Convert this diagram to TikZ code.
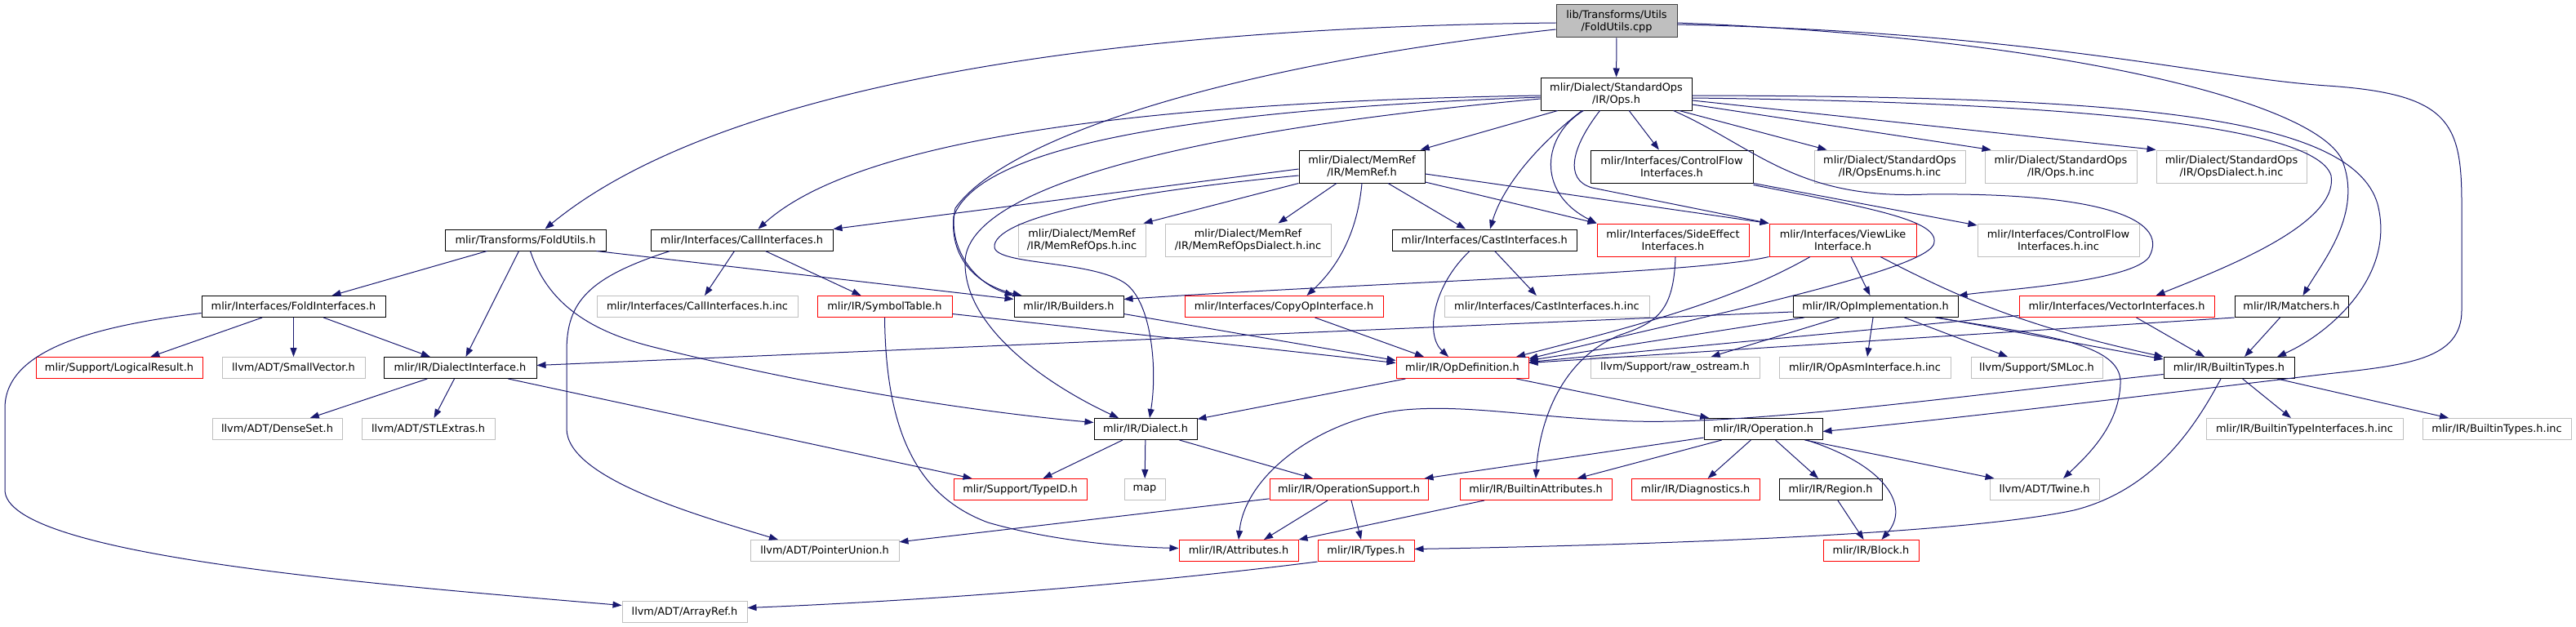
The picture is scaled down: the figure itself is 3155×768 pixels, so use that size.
\documentclass[tikz,border=0pt]{standalone}
\usepackage{fontspec}
\setmainfont{DejaVu Sans}
\usetikzlibrary{arrows.meta}
\definecolor{edgec}{RGB}{25,25,112}
\definecolor{grayb}{RGB}{191,191,191}
\definecolor{rootb}{RGB}{64,64,64}
\tikzset{
  box/.style={rectangle, inner sep=0pt, align=center, line width=1pt, fill=white,
    font=\fontsize{12.9pt}{15pt}\selectfont},
  nb/.style={box, draw=black},
  nr/.style={box, draw=red},
  ng/.style={box, draw=grayb},
  nroot/.style={box, draw=rootb, fill=grayb},
  wh/.style 2 args={minimum width=#1pt, minimum height=#2pt},
  lnk/.style={draw=edgec, line width=1pt, -{Triangle[length=11pt,width=8pt]}}
}
\begin{document}
\begin{tikzpicture}[x=1pt,y=-1pt]
\fill[white] (0,0) rectangle (3155,768);
\useasboundingbox (0,0) rectangle (3155,768);
% nodes
\node[nroot,wh={148}{40}] (cpp) at (1980,26) {lib/Transforms/Utils\\/FoldUtils.cpp};
\node[nb,wh={185}{40}] (ops) at (1979.5,115) {mlir/Dialect/StandardOps\\/IR/Ops.h};
\node[nb,wh={154}{40}] (memref) at (1668,204) {mlir/Dialect/MemRef\\/IR/MemRef.h};
\node[nb,wh={199}{40}] (cf) at (2047.5,204) {mlir/Interfaces/ControlFlow\\Interfaces.h};
\node[ng,wh={185}{40}] (opsenums) at (2314.5,204) {mlir/Dialect/StandardOps\\/IR/OpsEnums.h.inc};
\node[ng,wh={186}{40}] (opsinc) at (2524,204) {mlir/Dialect/StandardOps\\/IR/Ops.h.inc};
\node[ng,wh={184}{40}] (opsdialinc) at (2733,204) {mlir/Dialect/StandardOps\\/IR/OpsDialect.h.inc};
\node[nb,wh={197}{26}] (foldutilsh) at (643.5,294) {mlir/Transforms/FoldUtils.h};
\node[nb,wh={223}{26}] (callif) at (908.5,294) {mlir/Interfaces/CallInterfaces.h};
\node[ng,wh={156}{40}] (memrefopsinc) at (1325,294) {mlir/Dialect/MemRef\\/IR/MemRefOps.h.inc};
\node[ng,wh={203}{40}] (memrefdialinc) at (1528.5,294) {mlir/Dialect/MemRef\\/IR/MemRefOpsDialect.h.inc};
\node[nb,wh={226}{26}] (cast) at (1818,294) {mlir/Interfaces/CastInterfaces.h};
\node[nr,wh={186}{40}] (sideeff) at (2049,294) {mlir/Interfaces/SideEffect\\Interfaces.h};
\node[nr,wh={180}{40}] (viewlike) at (2257,294) {mlir/Interfaces/ViewLike\\Interface.h};
\node[ng,wh={198}{40}] (cfinc) at (2521,294) {mlir/Interfaces/ControlFlow\\Interfaces.h.inc};
\node[nb,wh={225}{26}] (foldif) at (359.5,375.5) {mlir/Interfaces/FoldInterfaces.h};
\node[ng,wh={246}{26}] (callinc) at (854,375.5) {mlir/Interfaces/CallInterfaces.h.inc};
\node[nr,wh={165}{26}] (symtab) at (1083.5,375.5) {mlir/IR/SymbolTable.h};
\node[nb,wh={134}{26}] (builders) at (1309,375.5) {mlir/IR/Builders.h};
\node[nr,wh={243}{26}] (copyop) at (1572.5,375.5) {mlir/Interfaces/CopyOpInterface.h};
\node[ng,wh={251}{26}] (castinc) at (1894.5,375.5) {mlir/Interfaces/CastInterfaces.h.inc};
\node[nb,wh={202}{26}] (opimpl) at (2297,375.5) {mlir/IR/OpImplementation.h};
\node[nr,wh={239}{26}] (vector) at (2592.5,375.5) {mlir/Interfaces/VectorInterfaces.h};
\node[nb,wh={139}{26}] (matchers) at (2806.5,375.5) {mlir/IR/Matchers.h};
\node[nr,wh={204}{26}] (logical) at (146,450.5) {mlir/Support/LogicalResult.h};
\node[ng,wh={175}{26}] (smallvec) at (359.5,450.5) {llvm/ADT/SmallVector.h};
\node[nb,wh={187}{26}] (dialif) at (563.5,450.5) {mlir/IR/DialectInterface.h};
\node[nr,wh={162}{26}] (opdef) at (1791,450.5) {mlir/IR/OpDefinition.h};
\node[ng,wh={207}{26}] (rawos) at (2051.5,450.5) {llvm/Support/raw\_ostream.h};
\node[ng,wh={210}{26}] (opasm) at (2284,450.5) {mlir/IR/OpAsmInterface.h.inc};
\node[ng,wh={161}{26}] (smloc) at (2494.5,450.5) {llvm/Support/SMLoc.h};
\node[nb,wh={160}{26}] (btypes) at (2730,450.5) {mlir/IR/BuiltinTypes.h};
\node[ng,wh={159}{26}] (denseset) at (339.5,525.5) {llvm/ADT/DenseSet.h};
\node[ng,wh={163}{26}] (stlextras) at (524.5,525.5) {llvm/ADT/STLExtras.h};
\node[nb,wh={126}{26}] (dialect) at (1403,525.5) {mlir/IR/Dialect.h};
\node[nb,wh={145}{26}] (operation) at (2159.5,525.5) {mlir/IR/Operation.h};
\node[ng,wh={241}{26}] (btinc) at (2822.5,525.5) {mlir/IR/BuiltinTypeInterfaces.h.inc};
\node[ng,wh={182}{26}] (btypesinc) at (3058,525.5) {mlir/IR/BuiltinTypes.h.inc};
\node[nr,wh={163}{26}] (typeid) at (1249.5,599.5) {mlir/Support/TypeID.h};
\node[ng,wh={50}{26}] (map) at (1402,599.5) {map};
\node[nr,wh={194}{26}] (opsupport) at (1652,599.5) {mlir/IR/OperationSupport.h};
\node[nr,wh={186}{26}] (battr) at (1881,599.5) {mlir/IR/BuiltinAttributes.h};
\node[nr,wh={157}{26}] (diag) at (2076.5,599.5) {mlir/IR/Diagnostics.h};
\node[nb,wh={126}{26}] (region) at (2242,599.5) {mlir/IR/Region.h};
\node[ng,wh={134}{26}] (twine) at (2504,599.5) {llvm/ADT/Twine.h};
\node[ng,wh={182}{26}] (ptrunion) at (1010,674.5) {llvm/ADT/PointerUnion.h};
\node[nr,wh={146}{26}] (attrs) at (1517,674.5) {mlir/IR/Attributes.h};
\node[nr,wh={118}{26}] (types) at (1673,674.5) {mlir/IR/Types.h};
\node[nr,wh={117}{26}] (block) at (2291.5,674.5) {mlir/IR/Block.h};
\node[ng,wh={153}{26}] (arrayref) at (838.5,749.5) {llvm/ADT/ArrayRef.h};
% edges: FoldUtils.cpp
\draw[lnk] (cpp) -- (ops);
\draw[lnk] ([yshift=-2pt]cpp.west) .. controls (1250,35) and (850,130) .. ([xshift=24pt]foldutilsh.north);
\draw[lnk] ([yshift=-10pt]cpp.west) .. controls (1500,80) and (1230,170) .. (1170,255) .. controls (1160,300) and (1190,345) .. (builders.north west);
\draw[lnk] ([yshift=-2pt]cpp.east) .. controls (2500,45) and (2830,120) .. (2868,195) .. controls (2895,260) and (2845,320) .. ([xshift=14pt]matchers.north);
\draw[lnk] ([yshift=-4pt]cpp.east) .. controls (2500,40) and (2700,95) .. (2850,105) .. controls (3000,115) and (3015,150) .. (3015,250) -- (3015,380) .. controls (3015,440) and (2950,447) .. (2850,458) .. controls (2600,488) and (2400,512) .. ([yshift=-3pt]operation.east);
% Ops.h
\draw[lnk] (ops) -- (memref);
\draw[lnk] (ops) -- (cf);
\draw[lnk] (ops) -- (opsenums);
\draw[lnk] ([yshift=-13pt]ops.east) -- ([xshift=8pt]opsinc.north west);
\draw[lnk] ([yshift=-8pt]ops.east) -- (opsdialinc.north west);
\draw[lnk] ([yshift=-5pt]ops.east) .. controls (2500,125) and (2835,150) .. (2855,215) .. controls (2865,275) and (2720,330) .. ([xshift=48pt]vector.north);
\draw[lnk] ([yshift=-2pt]ops.east) .. controls (2600,118) and (2880,140) .. (2912,250) .. controls (2935,340) and (2850,410) .. ([xshift=59pt]btypes.north);
\draw[lnk] ([yshift=-2pt]ops.west) .. controls (1400,125) and (1050,170) .. ([xshift=20pt]callif.north);
\draw[lnk] ([yshift=-4pt]ops.west) .. controls (1450,135) and (1200,180) .. (1168,265) .. controls (1163,320) and (1200,350) .. ([xshift=10pt]builders.north west);
\draw[lnk] ([yshift=-6pt]ops.west) .. controls (1400,165) and (1185,240) .. (1182,320) .. controls (1180,400) and (1280,470) .. ([xshift=-33pt]dialect.north);
\draw[lnk] ([xshift=-42pt]ops.south) .. controls (1880,180) and (1840,230) .. ([xshift=7pt]cast.north);
\draw[lnk] ([xshift=-40pt]ops.south) .. controls (1890,165) and (1880,235) .. (sideeff.north west);
\draw[lnk] ([xshift=-20pt]ops.south) .. controls (1925,180) and (1915,220) .. (1950,230) -- (viewlike.north west);
\draw[lnk] ([xshift=70pt]ops.south) .. controls (2150,180) and (2200,245) .. (2360,238) .. controls (2560,236) and (2660,265) .. (2632,315) .. controls (2610,345) and (2450,355) .. (opimpl.north east);
% MemRef.h
\draw[lnk] ([yshift=-3pt]memref.west) -- (callif.north east);
\draw[lnk] (memref.south west) -- ([xshift=-3pt]memrefopsinc.north east);
\draw[lnk] ([xshift=-31pt]memref.south) -- ([xshift=37pt]memrefdialinc.north);
\draw[lnk] (memref.south) .. controls (1662,290) and (1635,330) .. ([xshift=28pt]copyop.north);
\draw[lnk] ([xshift=32pt]memref.south) -- ([xshift=-23pt]cast.north);
\draw[lnk] ([yshift=-19pt]memref.east) -- (sideeff.north west);
\draw[lnk] ([yshift=-9pt]memref.east) -- (viewlike.north west);
\draw[lnk] ([yshift=-11pt]memref.west) .. controls (1380,235) and (1225,265) .. (1218,300) .. controls (1212,325) and (1330,318) .. (1375,345) .. controls (1410,365) and (1418,450) .. ([xshift=5pt]dialect.north);
% FoldUtils.h
\draw[lnk] (foldutilsh) -- (foldif);
\draw[lnk] ([xshift=-8pt]foldutilsh.south) -- ([xshift=7pt]dialif.north);
\draw[lnk] ([xshift=6pt]foldutilsh.south) .. controls (670,370) and (720,405) .. (800,425) .. controls (1000,475) and (1200,505) .. ([yshift=8pt]dialect.west);
\draw[lnk] ([xshift=-12pt]foldutilsh.south east) -- ([yshift=9pt]builders.west);
% CallInterfaces.h
\draw[lnk] (callif) -- (callinc);
\draw[lnk] (callif) -- (symtab);
\draw[lnk] ([xshift=24pt]callif.south west) .. controls (720,340) and (694,370) .. (694,430) -- (694,525) .. controls (694,585) and (850,630) .. ([xshift=-57pt]ptrunion.north);
% FoldInterfaces.h
\draw[lnk] (foldif) -- (logical);
\draw[lnk] (foldif) -- (smallvec);
\draw[lnk] (foldif) -- (dialif);
\draw[lnk] ([yshift=-8pt]foldif.west) .. controls (110,400) and (6,430) .. (6,500) -- (6,600) .. controls (6,680) and (450,715) .. ([yshift=8pt]arrayref.west);
% DialectInterface.h
\draw[lnk] (dialif) -- (denseset);
\draw[lnk] (dialif) -- (stlextras);
\draw[lnk] ([xshift=-35pt]dialif.south east) -- ([xshift=23pt]typeid.north west);
% SymbolTable.h, Builders.h, CopyOpInterface.h, CastInterfaces.h
\draw[lnk] ([yshift=-9pt]symtab.east) -- ([yshift=6pt]opdef.west);
\draw[lnk] (symtab.south) .. controls (1085,540) and (1130,610) .. (1210,640) .. controls (1290,663) and (1380,670) .. ([yshift=3pt]attrs.west);
\draw[lnk] ([yshift=-9pt]builders.east) -- ([yshift=9pt]opdef.west);
\draw[lnk] ([xshift=38pt]copyop.south) -- ([xshift=-47pt]opdef.north);
\draw[lnk] (cast) -- (castinc);
\draw[lnk] ([xshift=-18pt]cast.south) .. controls (1755,350) and (1745,410) .. ([xshift=-17pt]opdef.north);
% SideEffect, ViewLike
\draw[lnk] ([xshift=3pt]sideeff.south) .. controls (2050,380) and (2030,395) .. (1985,410) .. controls (1910,440) and (1885,520) .. (battr.north);
\draw[lnk] ([xshift=-40pt]viewlike.south) .. controls (2120,370) and (2000,400) .. ([xshift=66pt]opdef.north);
\draw[lnk] (viewlike.south west) .. controls (2080,335) and (1700,345) .. ([yshift=9pt]builders.east);
\draw[lnk] (viewlike) -- (opimpl);
\draw[lnk] ([xshift=46pt]viewlike.south) .. controls (2400,365) and (2480,400) .. (btypes.north west);
% ControlFlowInterfaces.h
\draw[lnk] (cf.south east) -- ([yshift=18pt]cfinc.west);
\draw[lnk] ([yshift=-2pt]cf.south east) .. controls (2290,255) and (2380,270) .. (2368,300) .. controls (2350,335) and (2050,395) .. ([yshift=11pt]opdef.east);
% OpImplementation.h
\draw[lnk] ([yshift=-6.5pt]opimpl.west) -- ([yshift=3pt]dialif.east);
\draw[lnk] ([xshift=14pt]opimpl.south west) -- ([yshift=9pt]opdef.east);
\draw[lnk] (opimpl) -- (rawos);
\draw[lnk] ([xshift=-3pt]opimpl.south) -- ([xshift=3pt]opasm.north);
\draw[lnk] (opimpl) -- (smloc);
\draw[lnk] ([xshift=-25pt]opimpl.south east) -- ([yshift=-3pt]btypes.north west);
\draw[lnk] ([xshift=-28pt]opimpl.south east) .. controls (2500,410) and (2600,420) .. (2597,470) .. controls (2595,520) and (2560,555) .. ([xshift=23pt]twine.north);
% VectorInterfaces.h, Matchers.h
\draw[lnk] ([yshift=-11pt]vector.west) -- ([yshift=7pt]opdef.east);
\draw[lnk] ([xshift=24pt]vector.south) -- ([xshift=-30pt]btypes.north);
\draw[lnk] (matchers.south west) -- ([yshift=6pt]opdef.east);
\draw[lnk] ([xshift=-14pt]matchers.south) -- ([xshift=19pt]btypes.north);
% OpDefinition.h
\draw[lnk] (opdef) -- (operation);
\draw[lnk] (opdef) -- (dialect);
% Operation.h
\draw[lnk] (operation) -- (opsupport);
\draw[lnk] (operation) -- (battr);
\draw[lnk] (operation) -- (diag);
\draw[lnk] (operation) -- (region);
\draw[lnk] ([xshift=53pt]operation.south) .. controls (2310,570) and (2340,620) .. ([xshift=13pt]block.north);
\draw[lnk] ([xshift=-22pt]operation.south east) -- ([xshift=6pt]twine.north west);
% Dialect.h
\draw[lnk] (dialect) -- (typeid);
\draw[lnk] (dialect) -- (map);
\draw[lnk] ([xshift=-22pt]dialect.south east) -- ([xshift=-44pt]opsupport.north);
% OperationSupport.h, BuiltinAttributes.h, Region.h, Types.h
\draw[lnk] ([xshift=-26pt]opsupport.south) -- ([xshift=31pt]attrs.north);
\draw[lnk] ([xshift=3pt]opsupport.south) -- ([xshift=-6pt]types.north);
\draw[lnk] (opsupport) -- (ptrunion);
\draw[lnk] ([xshift=-63pt]battr.south) -- (attrs.north east);
\draw[lnk] (region) -- (block);
\draw[lnk] (types.south west) .. controls (1400,715) and (1150,735) .. ([yshift=5pt]arrayref.east);
% BuiltinTypes.h
\draw[lnk] ([xshift=-10pt]btypes.south) .. controls (2690,520) and (2640,600) .. (2540,625) .. controls (2400,655) and (2000,668) .. ([yshift=2pt]types.east);
\draw[lnk] (btypes) -- (btinc);
\draw[lnk] (btypes) -- (btypesinc);
\draw[lnk] ([yshift=-8pt]btypes.west) .. controls (2400,485) and (2150,520) .. (2000,516) .. controls (1880,512) and (1800,495) .. (1720,502) .. controls (1620,512) and (1525,580) .. (attrs.north);
\end{tikzpicture}
\end{document}
